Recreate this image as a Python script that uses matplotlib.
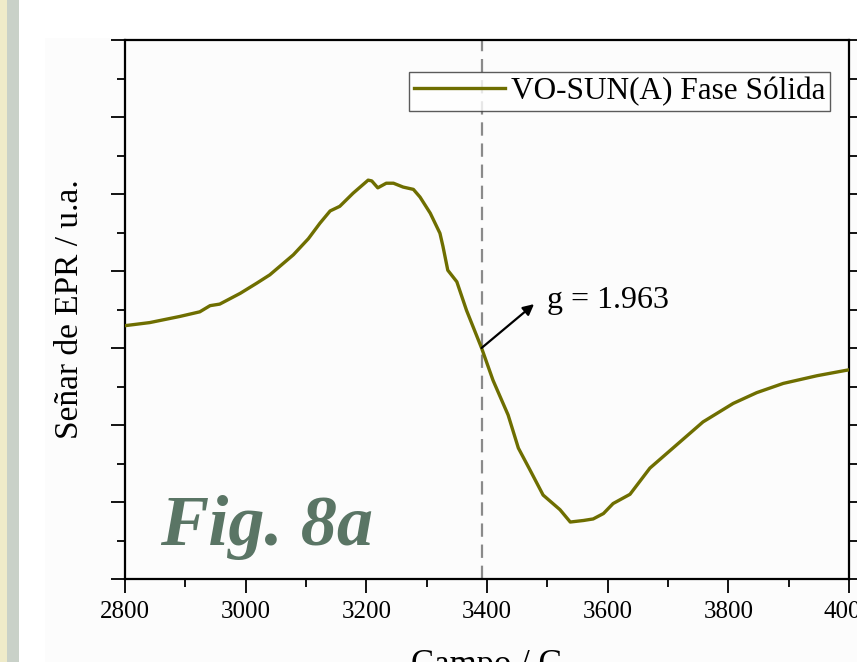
import matplotlib
matplotlib.use("Agg")
import matplotlib.pyplot as plt
from matplotlib.patches import Rectangle
from matplotlib.ticker import MultipleLocator

plt.rcParams['font.family'] = ['Liberation Serif', 'DejaVu Serif']

# espectro EPR, campo en G, señal en u.a.
campo = [2800, 2841, 2891, 2924, 2941, 2957, 2991, 3018, 3040, 3079, 3104, 3123,
         3140, 3156, 3178, 3203, 3209, 3219, 3233, 3245, 3261, 3278, 3289, 3306,
         3322, 3327, 3335, 3350, 3366, 3391, 3410, 3435, 3452, 3471, 3493, 3521,
         3538, 3560, 3576, 3593, 3609, 3637, 3670, 3714, 3758, 3808, 3847, 3891,
         3947, 4002]
senal = [3.29, 3.33, 3.41, 3.47, 3.55, 3.57, 3.71, 3.84, 3.95, 4.21, 4.42, 4.62,
         4.78, 4.84, 5.01, 5.18, 5.17, 5.08, 5.14, 5.14, 5.09, 5.06, 4.96, 4.75,
         4.49, 4.32, 4.01, 3.86, 3.49, 3.00, 2.58, 2.13, 1.70, 1.42, 1.09, 0.90,
         0.74, 0.76, 0.78, 0.85, 0.98, 1.10, 1.44, 1.74, 2.04, 2.28, 2.42, 2.54,
         2.64, 2.72]
campo_g = 3391
senal_g = 3.00
etiqueta_g = "g = 1.963"
serie = "VO-SUN(A) Fase Sólida"

W, H = 857, 662
fig = plt.figure(figsize=(W / 100, H / 100), dpi=100)
fig.patch.set_facecolor('white')

# franjas laterales de la página
fig.add_artist(Rectangle((0, 0), 7 / W, 1, transform=fig.transFigure,
                         facecolor='#efebc9', edgecolor='none', zorder=0))
fig.add_artist(Rectangle((7 / W, 0), 12 / W, 1, transform=fig.transFigure,
                         facecolor='#c9d1c8', edgecolor='none', zorder=0))
fig.add_artist(Rectangle((45 / W, 0), 1, (H - 38) / H, transform=fig.transFigure,
                         facecolor='#fcfcfc', edgecolor='none', zorder=0))

ax = fig.add_axes([125 / W, (H - 579) / H, (849 - 125) / W, (579 - 40) / H])
ax.set_facecolor('none')

ax.plot(campo, senal, color='#6e6e00', lw=2.4, label=serie, zorder=3,
        solid_joinstyle='round')
ax.axvline(campo_g, color='#8a8a8a', lw=1.6, dashes=(6, 3.5), zorder=2)

ax.annotate('', xy=(3478, 3.57), xytext=(campo_g, senal_g),
            arrowprops=dict(arrowstyle='-|>', color='black', lw=1.6,
                            mutation_scale=16, shrinkA=0, shrinkB=0), zorder=4)
ax.text(3500, 3.62, etiqueta_g, fontsize=23, va='center', ha='left')

ax.text(0.048, 0.063, "Fig. 8a", transform=ax.transAxes, fontsize=52,
        fontweight='bold', fontstyle='italic', color='#5a7565',
        va='baseline', ha='left')

ax.set_xlim(2800, 4000)
ax.set_ylim(0, 7)
ax.xaxis.set_major_locator(MultipleLocator(200))
ax.xaxis.set_minor_locator(MultipleLocator(100))
ax.yaxis.set_major_locator(MultipleLocator(1))
ax.yaxis.set_minor_locator(MultipleLocator(0.5))
ax.tick_params(axis='both', which='major', direction='out', length=10, width=1.3,
               labelsize=18)
ax.tick_params(axis='both', which='minor', direction='out', length=6, width=1.3)
ax.tick_params(axis='y', which='both', left=True, right=True,
               labelleft=False, labelright=False)
ax.tick_params(axis='x', which='both', top=False, pad=6)
for s in ax.spines.values():
    s.set_linewidth(1.6)

ax.text(0.5, -0.13, "Campo / G", transform=ax.transAxes, fontsize=25,
        ha='center', va='top')
ax.text(-0.076, 0.5, "Señar de EPR / u.a.", transform=ax.transAxes, fontsize=24,
        ha='center', va='center', rotation=90)

leg = ax.legend(loc='upper right', fontsize=22.5, handlelength=2.9,
                frameon=True, fancybox=False, borderpad=0.15, borderaxespad=0,
                handletextpad=0.2, bbox_to_anchor=(0.974, 0.9406))
leg.get_frame().set_edgecolor('#333333')
leg.get_frame().set_linewidth(1.0)

fig.savefig('out.png', dpi=100)
